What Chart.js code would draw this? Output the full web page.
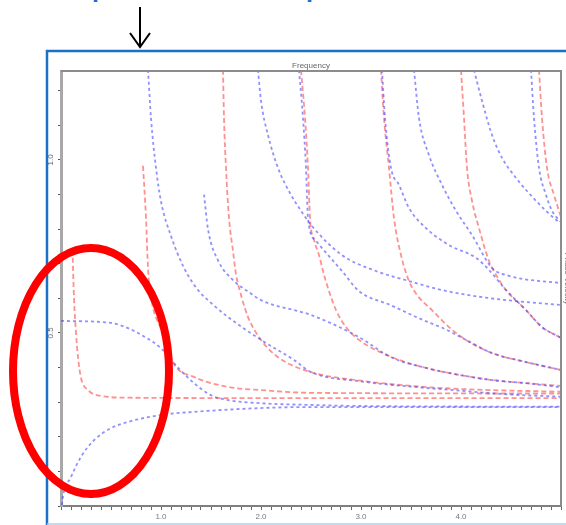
<!DOCTYPE html>
<html>
<head>
<meta charset="utf-8">
<script src="https://cdn.jsdelivr.net/npm/chart.js@4.4.1/dist/chart.umd.min.js"></script>
<style>
  html, body { margin: 0; padding: 0; background: #fff; overflow: hidden; }
  #wrap { position: relative; width: 566px; height: 525px; }
  #wrap canvas, #wrap svg { position: absolute; left: 0; top: 0; }
</style>
</head>
<body>
<div id="wrap">
  <canvas id="chart" width="566" height="525"></canvas>
  <svg width="566" height="525" xmlns="http://www.w3.org/2000/svg">
    <!-- heading cut off at the top, only descenders visible -->
    <text x="92" y="-3" font-family="Liberation Sans, Arial" font-weight="bold" font-size="26" fill="#1f6fd0">p</text>
    <text x="306" y="-3" font-family="Liberation Sans, Arial" font-weight="bold" font-size="26" fill="#1f6fd0">p</text>
    <!-- arrow -->
    <line x1="140" y1="7" x2="140" y2="46" stroke="#000" stroke-width="2"/>
    <polyline points="130,33 140,47 150,33" fill="none" stroke="#000" stroke-width="2"/>
    <!-- screenshot frame -->
    <polyline points="47,525 47,51 566,51" fill="none" stroke="#1a72c8" stroke-width="2.5"/>
    <line x1="47" y1="524" x2="566" y2="524" stroke="#a9d0f0" stroke-width="1.5"/>
    <!-- highlight -->
    <ellipse cx="91" cy="371" rx="78" ry="123" fill="none" stroke="#ff0000" stroke-width="8"/>
  </svg>
</div>
<script>
// x: frequency, y: normalised value (pairs)
const blue1 = [[0.01,0.003],[0.017,0.023],[0.1,0.084],[0.2,0.142],[0.33,0.19],[0.5,0.225],[0.67,0.243],[1.0,0.263],[1.33,0.272],[2.0,0.283],[2.5,0.286],[5.0,0.286]];
const blue2 = [[0,0.535],[0.5,0.529],[0.67,0.514],[0.83,0.49],[1.0,0.456],[1.17,0.40],[1.33,0.355],[1.5,0.32],[1.67,0.306],[2.0,0.297],[2.5,0.292],[3.0,0.289],[5.0,0.287]];
const blue3 = [[0.87,1.26],[0.9,1.12],[0.95,0.977],[1.0,0.88],[1.1,0.78],[1.23,0.688],[1.37,0.624],[1.5,0.587],[1.67,0.546],[2.0,0.48],[2.33,0.422],[2.5,0.387],[3.0,0.36],[3.5,0.345],[4.0,0.333],[4.5,0.322],[5.0,0.316]];
const blue4 = [[1.43,0.9],[1.47,0.80],[1.57,0.71],[1.73,0.65],[1.87,0.62],[2.0,0.595],[2.5,0.552],[2.98,0.488],[3.3,0.43],[3.65,0.399],[3.98,0.379],[4.31,0.364],[4.65,0.355],[5.0,0.343]];
const blue5 = [[1.97,1.26],[2.0,1.171],[2.07,1.072],[2.17,0.977],[2.3,0.899],[2.4,0.853],[2.5,0.812],[2.81,0.725],[3.15,0.679],[3.48,0.650],[3.81,0.624],[4.3,0.60],[5.0,0.581]];
const blue6 = [[2.38,1.26],[2.42,1.121],[2.45,0.977],[2.47,0.832],[2.55,0.766],[2.81,0.679],[2.98,0.621],[3.3,0.58],[3.6,0.54],[3.85,0.51],[4.05,0.48],[4.31,0.442],[4.65,0.416],[5.0,0.393]];
const blue7 = [[3.21,1.26],[3.24,1.121],[3.3,0.977],[3.38,0.928],[3.48,0.861],[3.65,0.803],[3.88,0.754],[4.15,0.717],[4.28,0.682],[4.45,0.624],[4.65,0.566],[4.81,0.517],[5.0,0.486]];
const blue8 = [[3.53,1.26],[3.58,1.121],[3.68,1.014],[3.81,0.928],[3.95,0.853],[4.11,0.783],[4.31,0.688],[4.48,0.665],[5.0,0.644]];
const blue9 = [[4.13,1.26],[4.21,1.171],[4.31,1.072],[4.41,1.006],[4.55,0.948],[4.75,0.882],[4.95,0.827],[5.0,0.818]];
const blue10 = [[4.70,1.26],[4.73,1.121],[4.78,0.977],[4.85,0.899],[4.91,0.853],[5.0,0.82]];

const red1 = [[0.115,0.74],[0.13,0.60],[0.15,0.50],[0.17,0.43],[0.2,0.37],[0.27,0.335],[0.4,0.318],[0.67,0.313],[1.5,0.312],[5.0,0.312]];
const red2 = [[0.82,0.983],[0.85,0.832],[0.87,0.688],[0.9,0.604],[1.0,0.51],[1.13,0.41],[1.33,0.373],[1.67,0.344],[2.0,0.335],[2.5,0.327],[5.0,0.325]];
const red3 = [[1.62,1.26],[1.63,1.121],[1.65,0.977],[1.68,0.832],[1.72,0.737],[1.75,0.67],[1.8,0.61],[1.87,0.546],[2.0,0.48],[2.17,0.43],[2.5,0.387],[3.0,0.362],[3.5,0.347],[4.0,0.338],[5.0,0.33]];
const red4 = [[2.4,1.26],[2.44,1.121],[2.47,0.977],[2.49,0.832],[2.53,0.77],[2.58,0.725],[2.63,0.668],[2.68,0.621],[2.75,0.566],[2.85,0.517],[2.98,0.48],[3.31,0.43],[3.65,0.399],[3.98,0.379],[4.31,0.364],[4.65,0.355],[5.0,0.347]];
const red5 = [[3.2,1.26],[3.23,1.121],[3.28,0.977],[3.33,0.832],[3.4,0.725],[3.48,0.65],[3.56,0.61],[3.71,0.566],[3.88,0.517],[4.05,0.48],[4.31,0.442],[4.65,0.416],[5.0,0.393]];
const red6 = [[4.0,1.26],[4.03,1.121],[4.06,0.977],[4.11,0.882],[4.18,0.803],[4.28,0.708],[4.35,0.668],[4.45,0.624],[4.65,0.566],[4.81,0.517],[5.0,0.486]];
const red7 = [[4.78,1.26],[4.81,1.121],[4.86,0.977],[4.93,0.899],[5.0,0.835]];

const blueCurves = [blue1, blue2, blue3, blue4, blue5, blue6, blue7, blue8, blue9, blue10];
const redCurves = [red1, red2, red3, red4, red5, red6, red7];

const xTickValues = [1, 2, 3, 4];
const xTickLabels = ['1.0', '2.0', '3.0', '4.0'];
const yLabelValues = [0.5, 1.0];
const yLabelTexts = ['0.5', '1.0'];

const BLUE = 'rgba(70,70,255,0.6)';
const RED = 'rgba(255,70,70,0.6)';

const toSet = (pts, color, dash) => ({
  data: pts.map(([x, y]) => ({ x, y })),
  showLine: true,
  borderColor: color,
  borderWidth: 1.8,
  borderDash: dash,
  pointRadius: 0,
  fill: false,
  cubicInterpolationMode: 'monotone'
});

const datasets = [
  ...blueCurves.map(c => toSet(c, BLUE, [3, 3])),
  ...redCurves.map(c => toSet(c, RED, [5, 3]))
];

// extra texts and the top/right box edges
const decor = {
  id: 'decor',
  afterDraw(chart) {
    const { ctx, chartArea: a, scales } = chart;
    ctx.save();
    ctx.strokeStyle = '#8c8c8c';
    ctx.lineWidth = 2;
    ctx.beginPath();
    ctx.moveTo(a.left, a.top);
    ctx.lineTo(a.right, a.top);
    ctx.lineTo(a.right, a.bottom);
    ctx.stroke();

    ctx.fillStyle = '#666';
    ctx.font = '8px "Liberation Sans", Arial';
    ctx.textAlign = 'center';
    ctx.textBaseline = 'bottom';
    ctx.fillText('Frequency', (a.left + a.right) / 2, a.top - 1);

    yLabelValues.forEach((v, i) => {
      const py = scales.y.getPixelForValue(v);
      ctx.save();
      ctx.translate(a.left - 6, py);
      ctx.rotate(-Math.PI / 2);
      ctx.textBaseline = 'bottom';
      ctx.fillText(yLabelTexts[i], 0, 0);
      ctx.restore();
    });

    ctx.save();
    ctx.translate(a.right + 2, (a.top + a.bottom) / 2 - 10);
    ctx.rotate(Math.PI / 2);
    ctx.textBaseline = 'bottom';
    ctx.fillText('Phase Velocity', 0, 0);
    ctx.restore();
    ctx.restore();
  }
};

new Chart(document.getElementById('chart'), {
  type: 'scatter',
  data: { datasets },
  options: {
    responsive: false,
    animation: false,
    layout: { padding: { top: 71, right: 5, left: 0, bottom: 0 } },
    plugins: { legend: { display: false }, tooltip: { enabled: false } },
    scales: {
      x: {
        type: 'linear', min: 0, max: 5,
        ticks: {
          stepSize: 0.1, autoSkip: false, maxRotation: 0, padding: 2,
          color: '#777', font: { size: 8 },
          callback: v => {
            const i = xTickValues.findIndex(t => Math.abs(t - v) < 1e-6);
            return i >= 0 ? xTickLabels[i] : '';
          }
        },
        grid: { drawOnChartArea: false, tickLength: 4, color: '#666' },
        border: { color: '#808080', width: 2 },
        afterFit: s => { s.height = 19; }
      },
      y: {
        type: 'linear', min: 0, max: 1.257,
        ticks: { stepSize: 0.1, callback: () => '' },
        grid: { drawOnChartArea: false, tickLength: 3, color: '#555' },
        border: { color: '#a8a8a8', width: 3 },
        afterBuildTicks: s => {
          s.ticks = s.ticks.filter(t => Math.abs(t.value * 10 - Math.round(t.value * 10)) < 1e-6);
        },
        afterFit: s => { s.width = 61; }
      }
    }
  },
  plugins: [decor]
});
</script>
</body>
</html>
